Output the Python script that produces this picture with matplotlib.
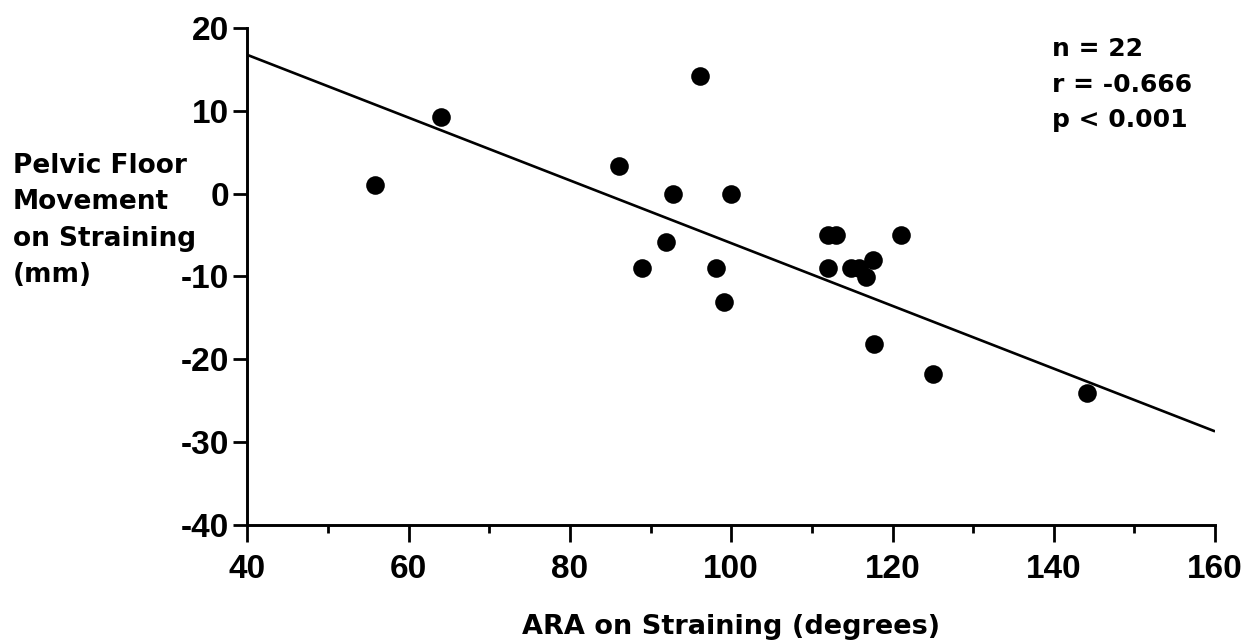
import matplotlib
matplotlib.use("Agg")
import matplotlib.pyplot as plt
from matplotlib.ticker import MultipleLocator

# ARA on straining (degrees) vs pelvic floor movement (mm)
ara = [55.8, 64.0, 96.1, 86.1, 92.8, 100.0, 91.9, 88.9, 98.1, 99.1,
       112.0, 113.0, 121.0, 112.0, 114.8, 115.8, 117.6, 116.7, 117.7,
       125.0, 144.1]
movement = [1, 9.2, 14.2, 3.3, 0, 0, -5.8, -9, -9, -13.1,
            -5, -5, -5, -9, -9, -9, -8, -10.1, -18.1,
            -21.8, -24.1]
fit_x = [40, 160]
fit_y = [16.75, -28.7]
stats_lines = ["n = 22", "r = -0.666", "p < 0.001"]
ylabel_lines = ["Pelvic Floor", "Movement", "on Straining", "(mm)"]

plt.rcParams['font.family'] = ['Liberation Sans', 'DejaVu Sans']
plt.rcParams['font.weight'] = 'bold'
plt.rcParams['axes.unicode_minus'] = False

label_font = ['DejaVu Sans']

fig = plt.figure(figsize=(12.56, 6.41), dpi=100)
ax = fig.add_axes([0.197, 0.181, 0.7704, 0.7753])

ax.plot(fit_x, fit_y, color='black', linewidth=1.9, solid_capstyle='butt')
ax.scatter(ara, movement, s=180, color='black', zorder=3, linewidths=0)

ax.set_xlim(40, 160)
ax.set_ylim(-40, 20)
ax.xaxis.set_major_locator(MultipleLocator(20))
ax.xaxis.set_minor_locator(MultipleLocator(10))
ax.yaxis.set_major_locator(MultipleLocator(10))

for side in ['top', 'right']:
    ax.spines[side].set_visible(False)
for side in ['left', 'bottom']:
    ax.spines[side].set_linewidth(2.1)

ax.tick_params(axis='x', which='major', direction='out', length=12, width=2,
               labelsize=24, pad=9)
ax.tick_params(axis='y', which='major', direction='out', length=10, width=2,
               labelsize=24, pad=3)
ax.tick_params(axis='x', which='minor', direction='out', length=6, width=2)
for lab in ax.get_xticklabels() + ax.get_yticklabels():
    lab.set_fontweight('bold')

ax.set_xlabel("ARA on Straining (degrees)", fontsize=19.5, fontweight='bold',
              family=label_font)
ax.xaxis.set_label_coords(0.5, -0.2053)
ax.xaxis.label.set_va('center')

# y label is set as a block of short lines to the left of the tick labels
first_baseline = 0.7301
line_step = 0.0567
for i, line in enumerate(ylabel_lines):
    fig.text(0.0104, first_baseline - i * line_step, line, fontsize=19,
             fontweight='bold', family=label_font, ha='left', va='baseline')

fig.text(0.8376, 0.868, "\n".join(stats_lines), fontsize=18, fontweight='bold',
         family=label_font, ha='left', va='center', linespacing=1.62)

fig.savefig("out.png", dpi=100)
